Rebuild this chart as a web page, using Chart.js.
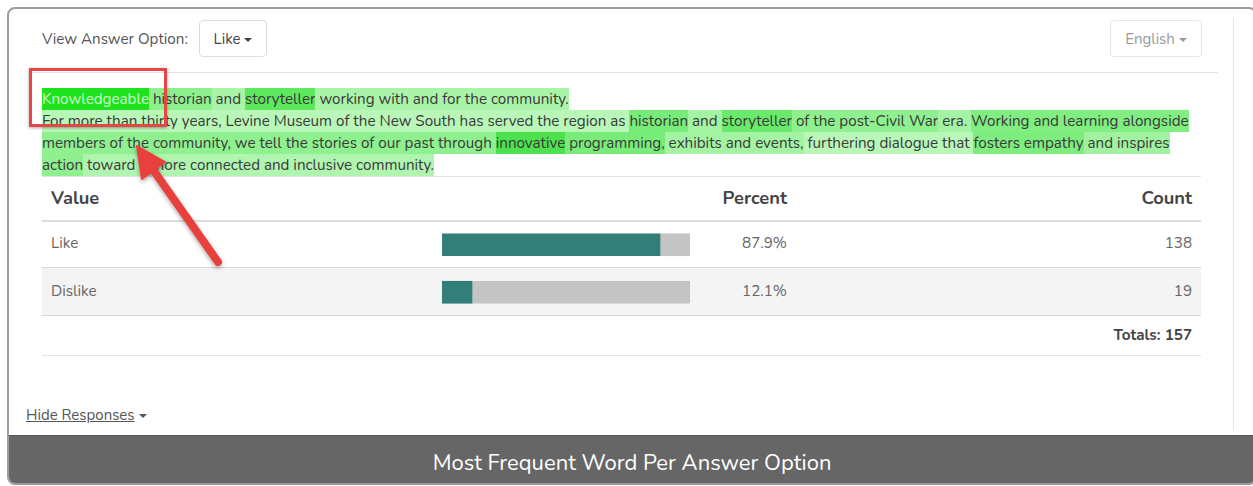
<!DOCTYPE html>
<html>
<head>
<meta charset="utf-8">
<script src="https://cdn.jsdelivr.net/npm/chart.js@4.4.1/dist/chart.umd.min.js"></script>
<style>
  html, body { margin: 0; padding: 0; background: #fff; width: 1253px; height: 486px; overflow: hidden; }
  body { font-family: "Nunito", "Lato", sans-serif; color: #555; position: relative; }
  .abs { position: absolute; }
  .card { left: 7px; top: 7px; width: 1250px; height: 478px; border: 2px solid #9c9c9c; border-radius: 8px; overflow: hidden; box-sizing: border-box; }
  .footer { left: 0; bottom: 0; width: 100%; height: 47px; background: #666; color: #fff; font-size: 22px; text-align: center; line-height: 55px; border-top: 1px solid #555; }
  .btn { border: 1px solid #ddd; border-radius: 4px; font-size: 15px; line-height: 36px; text-align: center; box-sizing: border-box; }
  .caret { display: inline-block; width: 0; height: 0; border-left: 4px solid transparent; border-right: 4px solid transparent; border-top: 4px solid currentColor; vertical-align: middle; margin-left: 4px; }
  .hline { height: 1px; background: #e3e3e3; }
  .para { left: 42px; top: 88px; font-size: 15.2px; line-height: 22px; color: #3a3a3a; white-space: nowrap; }
  .para span { display: inline-block; height: 22px; }
  .cell { font-size: 15.2px; color: #666; }
  .head { font-size: 18.3px; font-weight: bold; color: #444; }
</style>
</head>
<body>
<div class="abs card">
  <div class="abs footer">Most Frequent Word Per Answer Option</div>
</div>
<div class="abs" style="left:1233px; top:18px; width:1px; height:412px; background:#e6e6e6;"></div>

<div class="abs" style="left:42px; top:29px; font-size:15.2px; color:#555;">View Answer Option:</div>
<div class="abs btn" style="left:199px; top:20px; width:68px; height:37px; color:#444;">Like<span class="caret"></span></div>
<div class="abs btn" style="left:1110px; top:20px; width:92px; height:37px; color:#999; border-color:#e6e6e6;">English<span class="caret"></span></div>
<div class="abs hline" style="left:28px; top:72px; width:1190px;"></div>

<div class="abs para" id="para"></div>

<!-- table -->
<div class="abs hline" style="left:42px; top:176px; width:1159px;"></div>
<div class="abs head" style="left:51px; top:186px;">Value</div>
<div class="abs head" style="left:600px; width:187px; top:186px; text-align:right;">Percent</div>
<div class="abs head" style="left:1000px; width:192px; top:186px; text-align:right;">Count</div>
<div class="abs hline" style="left:42px; top:220px; width:1159px; height:2px; background:#dedede;"></div>
<div class="abs" style="left:42px; top:268px; width:1159px; height:47px; background:#f4f4f4;"></div>
<div class="abs hline" style="left:42px; top:267px; width:1159px; background:#d6d6d6;"></div>
<div class="abs hline" style="left:42px; top:315px; width:1159px; background:#d6d6d6;"></div>
<div class="abs hline" style="left:42px; top:355px; width:1159px;"></div>
<div id="rows"></div>
<div class="abs" id="totals" style="left:1000px; width:192px; top:325px; text-align:right; font-size:15.2px; font-weight:bold; color:#444;"></div>

<div class="abs" style="left:442px; top:221px; width:248px; height:95px;">
  <canvas id="bars"></canvas>
</div>

<div class="abs" style="left:26px; top:405px; font-size:15px; color:#555; text-decoration:underline;">Hide Responses<span class="caret" style="margin-left:4px;"></span></div>

<!-- annotation -->
<div class="abs" style="left:29px; top:68px; width:138px; height:59px; border:3px solid #e64646; box-sizing:border-box; box-shadow:0 1px 3px rgba(0,0,0,0.35);"></div>
<svg class="abs" style="left:0; top:0;" width="1253" height="486">
  <defs>
    <filter id="sh" x="-20%" y="-20%" width="140%" height="140%">
      <feDropShadow dx="0" dy="2" stdDeviation="2" flood-color="#000" flood-opacity="0.35"/>
    </filter>
  </defs>
  <g filter="url(#sh)" fill="#e8413c" stroke="#e8413c">
    <line x1="218" y1="262" x2="154" y2="171" stroke-width="8" stroke-linecap="round"/>
    <polygon points="137,146 165,162 142,179" stroke-width="2" stroke-linejoin="round"/>
  </g>
</svg>

<script>
const answerOptions = ['Like', 'Dislike'];
const counts = [138, 19];
const percents = [87.9, 12.1];
const totalCount = 157;

// highlighted answer text: [word(s), background, optional text colour]
const paraLines = [
  [['Knowledgeable', '#1fe21f', '#c9ffc9'], [' historian', '#8df08d'], [' and ', '#a9f4a9'], ['storyteller', '#5ee85e'], [' working with and for the community.', '#aaf4aa']],
  [['For more than thirty years, Levine Museum of the New South has served the region as ', '#b9f7b9'], ['historian', '#78ec78'], [' and ', '#a3f3a3'], ['storyteller', '#6aea6a'], [' of the post-Civil War', '#8ef08e'], [' era. ', '#a4f3a4'], ['Working and learning alongside', '#80ee80']],
  [['members of the community, we tell the stories of our past through ', '#8ff08f'], ['innovative', '#4de24d'], [' programming,', '#78ec78'], [' exhibits and events,', '#a3f3a3'], [' furthering dialogue that ', '#b8f7b8'], ['fosters empathy', '#7ded7d'], [' and inspires', '#a0f2a0']],
  [['action', '#8ef08e'], [' toward a more connected and inclusive community.', '#aff5af']]
];

const para = document.getElementById('para');
paraLines.forEach(line => {
  const div = document.createElement('div');
  line.forEach(([txt, bg, fg]) => {
    const s = document.createElement('span');
    s.textContent = txt;
    s.style.whiteSpace = 'pre';
    s.style.background = bg;
    if (fg) s.style.color = fg;
    div.appendChild(s);
  });
  para.appendChild(div);
});

const rows = document.getElementById('rows');
answerOptions.forEach((name, i) => {
  const top = 233 + i * 48;
  rows.insertAdjacentHTML('beforeend',
    `<div class="abs cell" style="left:51px; top:${top}px;">${name}</div>` +
    `<div class="abs cell" style="left:600px; width:187px; top:${top}px; text-align:right;">${percents[i].toFixed(1)}%</div>` +
    `<div class="abs cell" style="left:1000px; width:192px; top:${top}px; text-align:right;">${counts[i]}</div>`);
});
document.getElementById('totals').textContent = 'Totals: ' + totalCount;

new Chart(document.getElementById('bars').getContext('2d'), {
  type: 'bar',
  data: {
    labels: answerOptions,
    datasets: [
      { data: percents, backgroundColor: '#327e79', barThickness: 22 },
      { data: percents.map(p => 100 - p), backgroundColor: '#c4c4c4', barThickness: 22 }
    ]
  },
  options: {
    indexAxis: 'y',
    responsive: true,
    maintainAspectRatio: false,
    animation: false,
    layout: { padding: 0 },
    plugins: { legend: { display: false }, tooltip: { enabled: false } },
    scales: {
      x: { stacked: true, min: 0, max: 100, display: false },
      y: { stacked: true, display: false }
    }
  }
});
</script>
</body>
</html>
